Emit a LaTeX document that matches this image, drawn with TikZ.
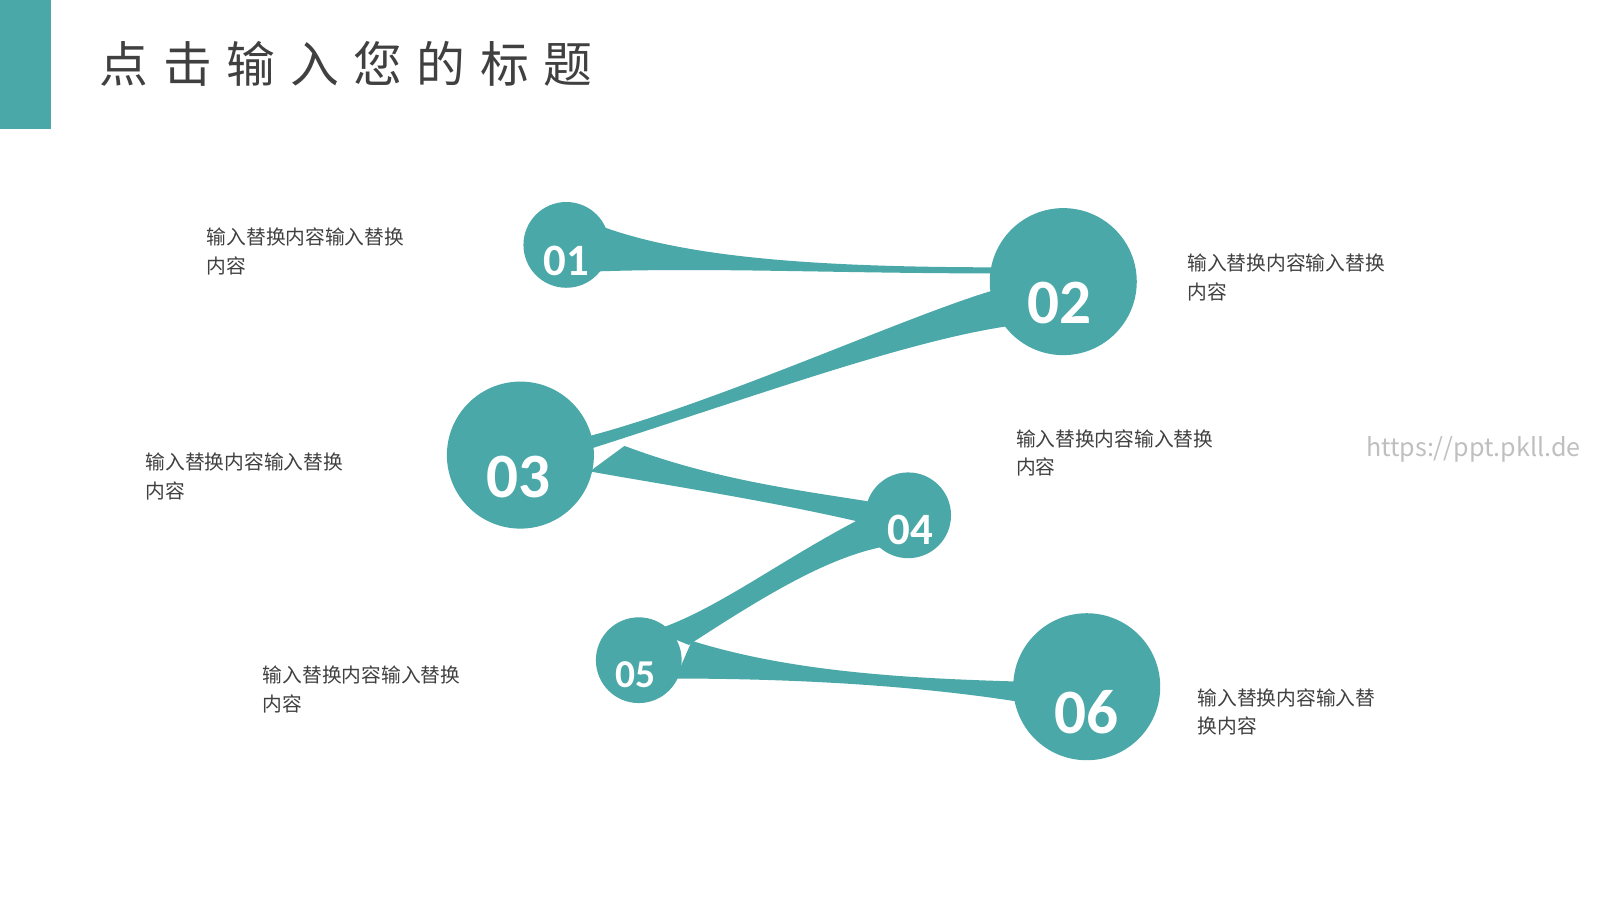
\documentclass[tikz,border=0pt]{standalone}
\usepackage{fontspec}
\setmainfont{Noto Sans CJK SC}
\newfontfamily\numfont{Carlito}
\usetikzlibrary{positioning}
\definecolor{teal1}{HTML}{4BA8A8}
\definecolor{txtgray}{HTML}{404040}
\begin{document}
\begin{tikzpicture}[x=0.01cm, y=-0.01cm,
    dot/.style={circle, fill=teal1, inner sep=0pt, minimum size=#1},
    num/.style={text=white, font=\numfont\bfseries\fontsize{#1}{#1}\selectfont},
    desc/.style={anchor=north west, align=left, text=txtgray, inner sep=0pt,
      font=\fontsize{5.5pt}{8pt}\selectfont},
    link/.style={fill=teal1, draw=none}
  ]
  \useasboundingbox (0,0) rectangle (1568,882);
  \fill[teal1] (0,0) rectangle (50,126);
  \node[anchor=west, inner sep=0pt, text=txtgray,
    font=\fontsize{13.6pt}{14pt}\selectfont\addfontfeature{LetterSpace=30}] (title) at (97,63) {点击输入您的标题};

  % connectors
  \fill[link] (590,222) .. controls (680,255) and (820,262) .. (985,262) -- (985,268) .. controls (820,268) and (700,262) .. (585,266) -- cycle;
  \fill[link] (1000,278) .. controls (930,290) and (720,390) .. (575,428) -- (578,440) .. controls (750,385) and (900,330) .. (1000,318) -- cycle;
  \fill[link] (612,437) .. controls (700,470) and (780,480) .. (855,492) -- (845,512) .. controls (750,490) and (650,475) .. (578,462) -- cycle;
  \fill[link] (850,505) .. controls (770,545) and (700,600) .. (640,618) -- (675,632) .. controls (740,590) and (810,545) .. (870,535) -- cycle;
  \fill[link] (678,628) .. controls (780,660) and (900,665) .. (1000,668) -- (1000,688) .. controls (900,672) and (780,665) .. (662,665) -- cycle;

  % circles
  \node[dot=0.84cm] (c1) at (555,240) {};
  \node[dot=1.44cm] (c2) at (1042,276) {};
  \node[dot=1.44cm] (c3) at (510,446) {};
  \node[dot=0.84cm] (c4) at (890,505) {};
  \node[dot=0.84cm] (c5) at (626,647) {};
  \node[dot=1.44cm] (c6) at (1065,673) {};

  \node[num=12.5pt] (n1) at (555,256) {01};
  \node[num=17.6pt] (n2) at (1038,297) {02};
  \node[num=17.6pt] (n3) at (508,467) {03};
  \node[num=12.5pt] (n4) at (892,519) {04};
  \node[num=11pt] (n5) at (623,661) {05};
  \node[num=17.6pt] (n6) at (1065,698) {06};

  % texts
  \node[desc] (t1) at (202,223) {输入替换内容输入替换\\内容};
  \node[desc] (t2) at (1163,248) {输入替换内容输入替换\\内容};
  \node[desc] (t3) at (142,443) {输入替换内容输入替换\\内容};
  \node[desc] (t4) at (995,420) {输入替换内容输入替换\\内容};
  \node[desc] (t5) at (257,652) {输入替换内容输入替换\\内容};
  \node[desc] (t6) at (1173,674) {输入替换内容输入替\\换内容};
  \node[anchor=west, inner sep=0pt, text=black!25, font=\fontsize{7pt}{8pt}\selectfont] (wm) at (1338,440) {https://ppt.pkll.de};
\end{tikzpicture}
\end{document}
